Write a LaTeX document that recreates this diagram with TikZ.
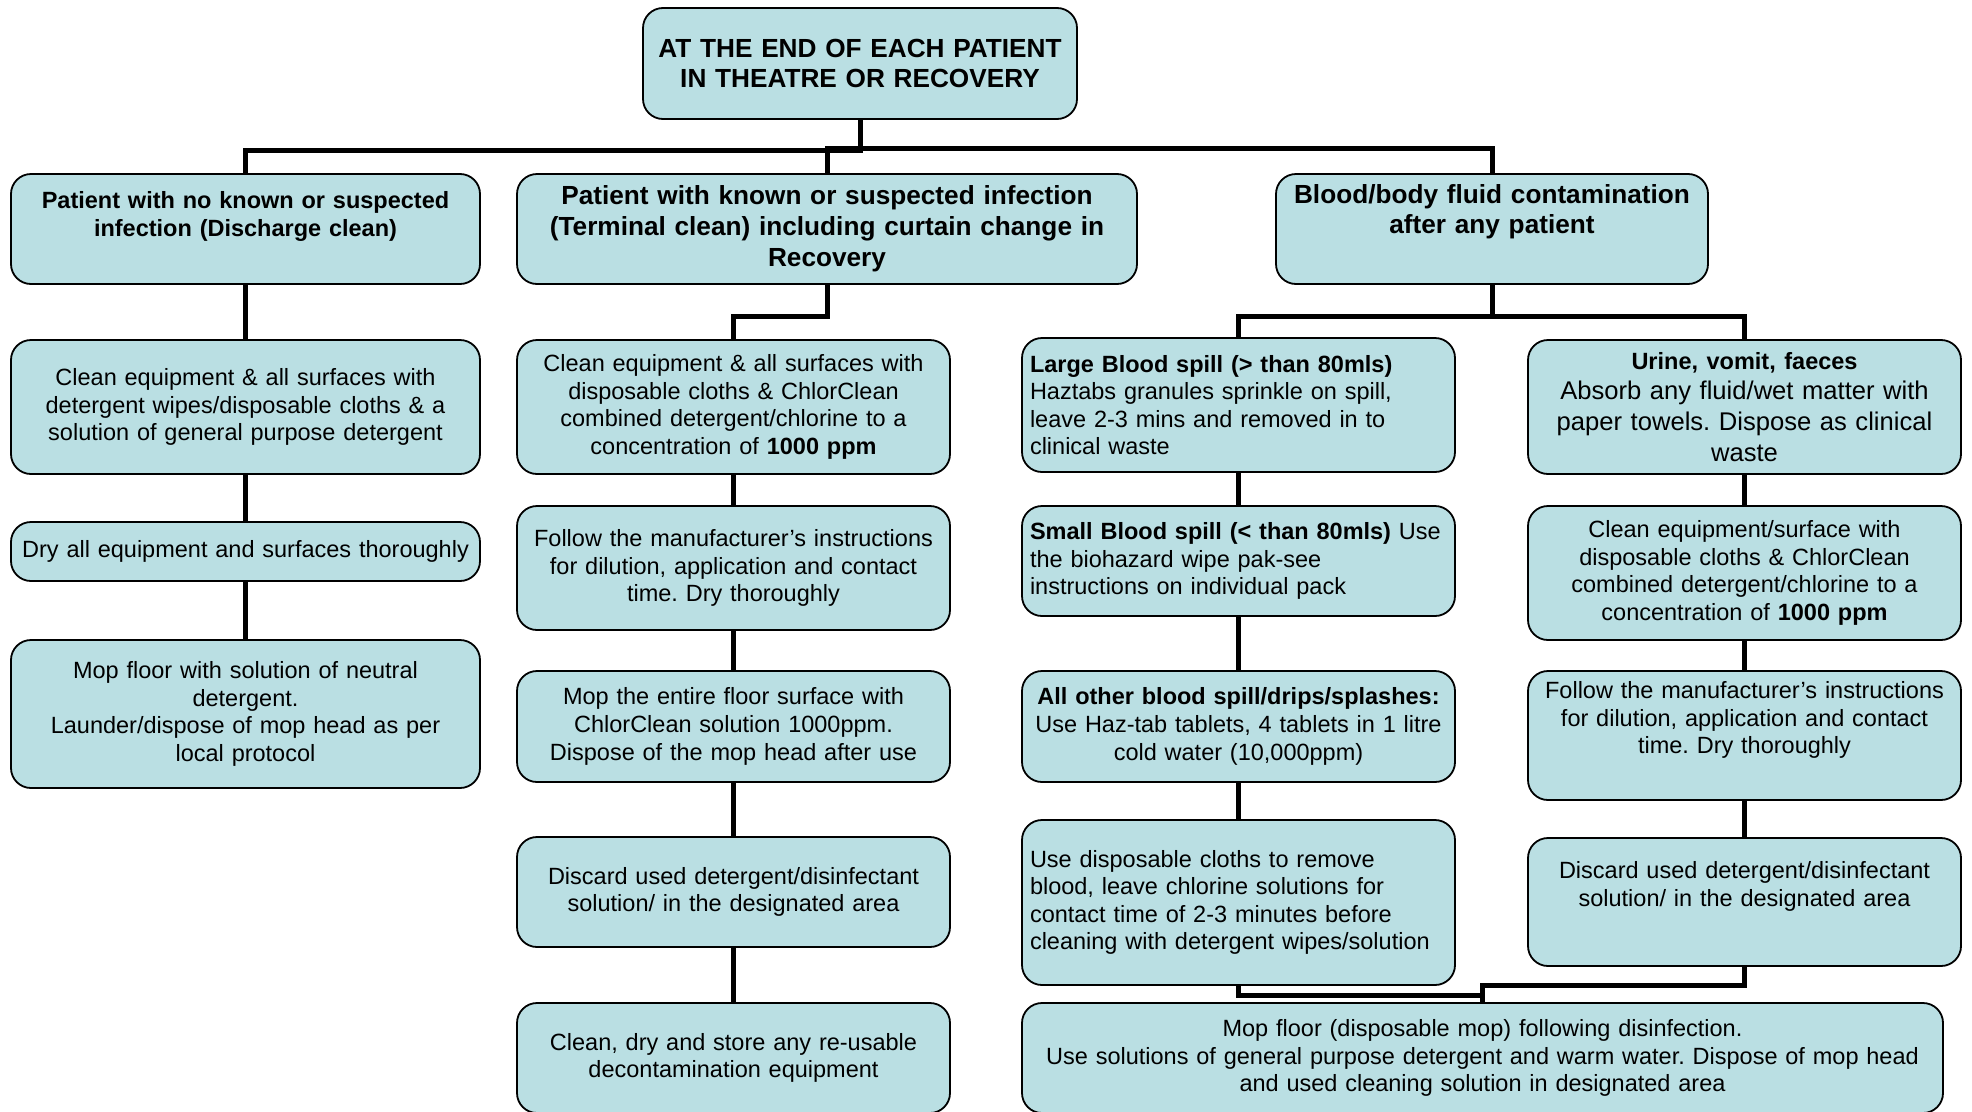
\documentclass[tikz,border=0pt]{standalone}
\usepackage{fontspec}
\setmainfont{Liberation Sans}
\frenchspacing
\definecolor{boxblue}{RGB}{186,223,227}
\newcommand{\tailgap}{\\\strut}

\begin{document}
\begin{tikzpicture}[x=1pt,y=-1pt,
    box/.style={draw=black, line width=1.8pt, rounded corners=20pt, fill=boxblue,
      inner xsep=8pt, inner ysep=2pt, align=center, font=\fontsize{23.5}{27.6}\selectfont},
    sz/.style 2 args={minimum width=#1, text width=#1-16pt, minimum height=#2},
    head/.style={font=\fontsize{26.2}{30.8}\selectfont\bfseries},
    lbox/.style={align=left},
    link/.style={line width=5pt}]
  \useasboundingbox (0,0) rectangle (1972,1111);

  \node[box, head, sz={434pt}{111pt}] (top) at (860,63.5) {AT THE END OF EACH PATIENT\\IN THEATRE OR RECOVERY};

  % the three cases
  \node[box, sz={469pt}{110pt}, font=\fontsize{23.5}{27.6}\selectfont\bfseries] (pa) at (245.5,229)
      {Patient with no known or suspected\\infection (Discharge clean)\\[-6pt]\strut};
  \node[box, head, sz={620pt}{110pt}] (pb) at (827,229)
      {Patient with known or suspected infection\\(Terminal clean) including curtain change in\\Recovery};
  \node[box, head, sz={432pt}{110pt}] (pc) at (1492,229)
      {Blood/body fluid contamination\\after any patient\tailgap};

  % discharge clean
  \node[box, sz={469pt}{134pt}] (a1) at (245.5,407)
      {Clean equipment \& all surfaces with\\detergent wipes/disposable cloths \& a\\solution of general purpose detergent};
  \node[box, sz={469pt}{59pt}] (a2) at (245.5,551.5) {Dry all equipment and surfaces thoroughly};
  \node[box, sz={469pt}{148pt}] (a3) at (245.5,714)
      {Mop floor with solution of neutral\\detergent.\\Launder/dispose of mop head as per\\local protocol};

  % terminal clean
  \node[box, sz={433pt}{134pt}] (b1) at (733.5,407)
      {Clean equipment \& all surfaces with\\disposable cloths \& ChlorClean\\combined detergent/chlorine to a\\concentration of \textbf{1000 ppm}};
  \node[box, sz={433pt}{124pt}] (b2) at (733.5,568)
      {Follow the manufacturer’s instructions\\for dilution, application and contact\\time. Dry thoroughly};
  \node[box, sz={433pt}{111pt}] (b3) at (733.5,726.5)
      {Mop the entire floor surface with\\ChlorClean solution 1000ppm.\\Dispose of the mop head after use};
  \node[box, sz={433pt}{110pt}] (b4) at (733.5,892)
      {Discard used detergent/disinfectant\\solution/ in the designated area};
  \node[box, sz={433pt}{110pt}] (b5) at (733.5,1058)
      {Clean, dry and store any re-usable\\decontamination equipment};

  % blood spills
  \node[box, lbox, sz={433pt}{134pt}] (c1) at (1238.5,405)
      {\textbf{Large Blood spill (> than 80mls)}\\Haztabs granules sprinkle on spill,\\leave 2-3 mins and removed in to\\clinical waste};
  \node[box, lbox, sz={433pt}{110pt}] (c2) at (1238.5,561)
      {\textbf{Small Blood spill (< than 80mls)} Use\\the biohazard wipe pak-see\\instructions on individual pack};
  \node[box, sz={433pt}{111pt}] (c3) at (1238.5,726.5)
      {\textbf{All other blood spill/drips/splashes:}\\Use Haz-tab tablets, 4 tablets in 1 litre\\cold water (10,000ppm)};
  \node[box, lbox, sz={433pt}{165pt}] (c4) at (1238.5,902.5)
      {Use disposable cloths to remove\\blood, leave chlorine solutions for\\contact time of 2-3 minutes before\\cleaning with detergent wipes/solution};

  % body fluids
  \node[box, sz={433pt}{134pt}, font=\fontsize{25.6}{30.8}\selectfont] (d1) at (1744.5,407)
      {{\fontsize{23.5}{30.8}\selectfont\bfseries Urine, vomit, faeces}\\Absorb any fluid/wet matter with\\paper towels. Dispose as clinical\\waste};
  \node[box, sz={433pt}{134pt}] (d2) at (1744.5,573)
      {Clean equipment/surface with\\disposable cloths \& ChlorClean\\combined detergent/chlorine to a\\concentration of \textbf{1000 ppm}};
  \node[box, sz={433pt}{129pt}] (d3) at (1744.5,735.5)
      {Follow the manufacturer’s instructions\\for dilution, application and contact\\time. Dry thoroughly\tailgap};
  \node[box, sz={433pt}{128pt}] (d4) at (1744.5,902)
      {Discard used detergent/disinfectant\\solution/ in the designated area\tailgap};

  \node[box, sz={921pt}{110pt}] (e) at (1482.5,1058)
      {Mop floor (disposable mop) following disinfection.\\Use solutions of general purpose detergent and warm water. Dispose of mop head\\and used cleaning solution in designated area};

  \draw[link] (top.south) -- ++(0,31) -| (pa.north);
  \draw[link] (top.south) -- ++(0,29) -| (pb.north);
  \draw[link] (top.south) -- ++(0,29) -| (pc.north);

  \draw[link] (pa.south) -- (a1.north);
  \draw[link] (a1.south) -- (a2.north);
  \draw[link] (a2.south) -- (a3.north);

  \draw[link] (pb.south) -- ++(0,32) -| (b1.north);
  \draw[link] (b1.south) -- (b2.north);
  \draw[link] (b2.south) -- (b3.north);
  \draw[link] (b3.south) -- (b4.north);
  \draw[link] (b4.south) -- (b5.north);

  \draw[link] (pc.south) -- ++(0,32) -| (c1.north);
  \draw[link] (pc.south) -- ++(0,32) -| (d1.north);
  \draw[link] (c1.south) -- (c2.north);
  \draw[link] (c2.south) -- (c3.north);
  \draw[link] (c3.south) -- (c4.north);
  \draw[link] (d1.south) -- (d2.north);
  \draw[link] (d2.south) -- (d3.north);
  \draw[link] (d3.south) -- (d4.north);

  \draw[link] (c4.south) -- ++(0,10) -| (e.north);
  \draw[link] (d4.south) -- ++(0,19) -| (e.north);
\end{tikzpicture}
\end{document}
